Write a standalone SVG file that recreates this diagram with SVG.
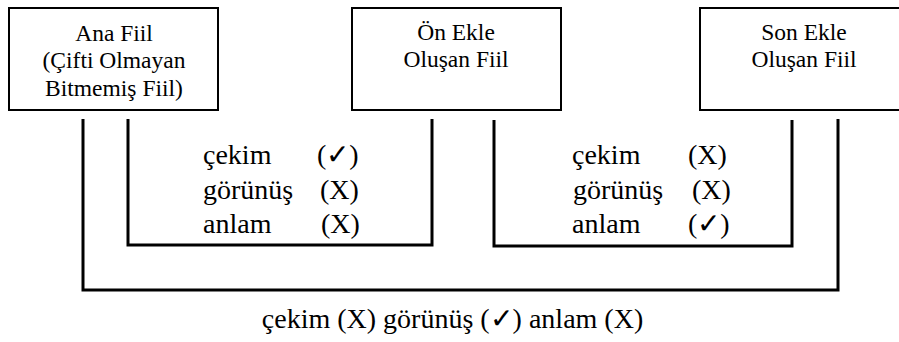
<svg xmlns="http://www.w3.org/2000/svg" width="899" height="342" viewBox="0 0 899 342">
<style>
.box{fill:#fff;stroke:#000;stroke-width:2}
.t{font-size:23.5px;fill:#000;text-anchor:middle}
.b{font-size:28px;fill:#000}
.ln{fill:none;stroke:#000;stroke-width:3}
</style>
<rect width="899" height="342" fill="#fff"/>
<g font-family="'Liberation Serif', 'DejaVu Serif', serif">
<g id="node-ana">
<rect class="box" x="9" y="8" width="209" height="102"/>
<text class="t" x="114" y="41">Ana Fiil</text>
<text class="t" x="114" y="68">(Çifti Olmayan</text>
<text class="t" x="114" y="95.5">Bitmemiş Fiil)</text>
</g>
<g id="node-on">
<rect class="box" x="352" y="8" width="209" height="102"/>
<text class="t" x="456" y="40">Ön Ekle</text>
<text class="t" x="456" y="67">Oluşan Fiil</text>
</g>
<g id="node-son">
<rect class="box" x="700" y="8" width="210" height="102"/>
<text class="t" x="804" y="40">Son Ekle</text>
<text class="t" x="804" y="67">Oluşan Fiil</text>
</g>
<g id="connectors">
<polyline class="ln" points="128,119 128,245 432,245 432,119"/>
<polyline class="ln" points="494,120 494,246 792,246 792,120"/>
<polyline class="ln" points="83,119 83,290 838,290 838,119"/>
</g>
<g id="label-left">
<text class="b" x="203" y="164">çekim</text>
<text class="b" x="317" y="164">(✓)</text>
<text class="b" x="203" y="199">görünüş</text>
<text class="b" x="320" y="199">(X)</text>
<text class="b" x="203" y="233">anlam</text>
<text class="b" x="321" y="233">(X)</text>
</g>
<g id="label-right">
<text class="b" x="572" y="164">çekim</text>
<text class="b" x="688" y="164">(X)</text>
<text class="b" x="573" y="199">görünüş</text>
<text class="b" x="692" y="199">(X)</text>
<text class="b" x="572" y="233">anlam</text>
<text class="b" x="688" y="233">(✓)</text>
</g>
<g id="label-bottom">
<text class="b" x="452.5" y="328" text-anchor="middle" font-size="28.5">çekim (X) görünüş (✓) anlam (X)</text>
</g>
</g>
</svg>
